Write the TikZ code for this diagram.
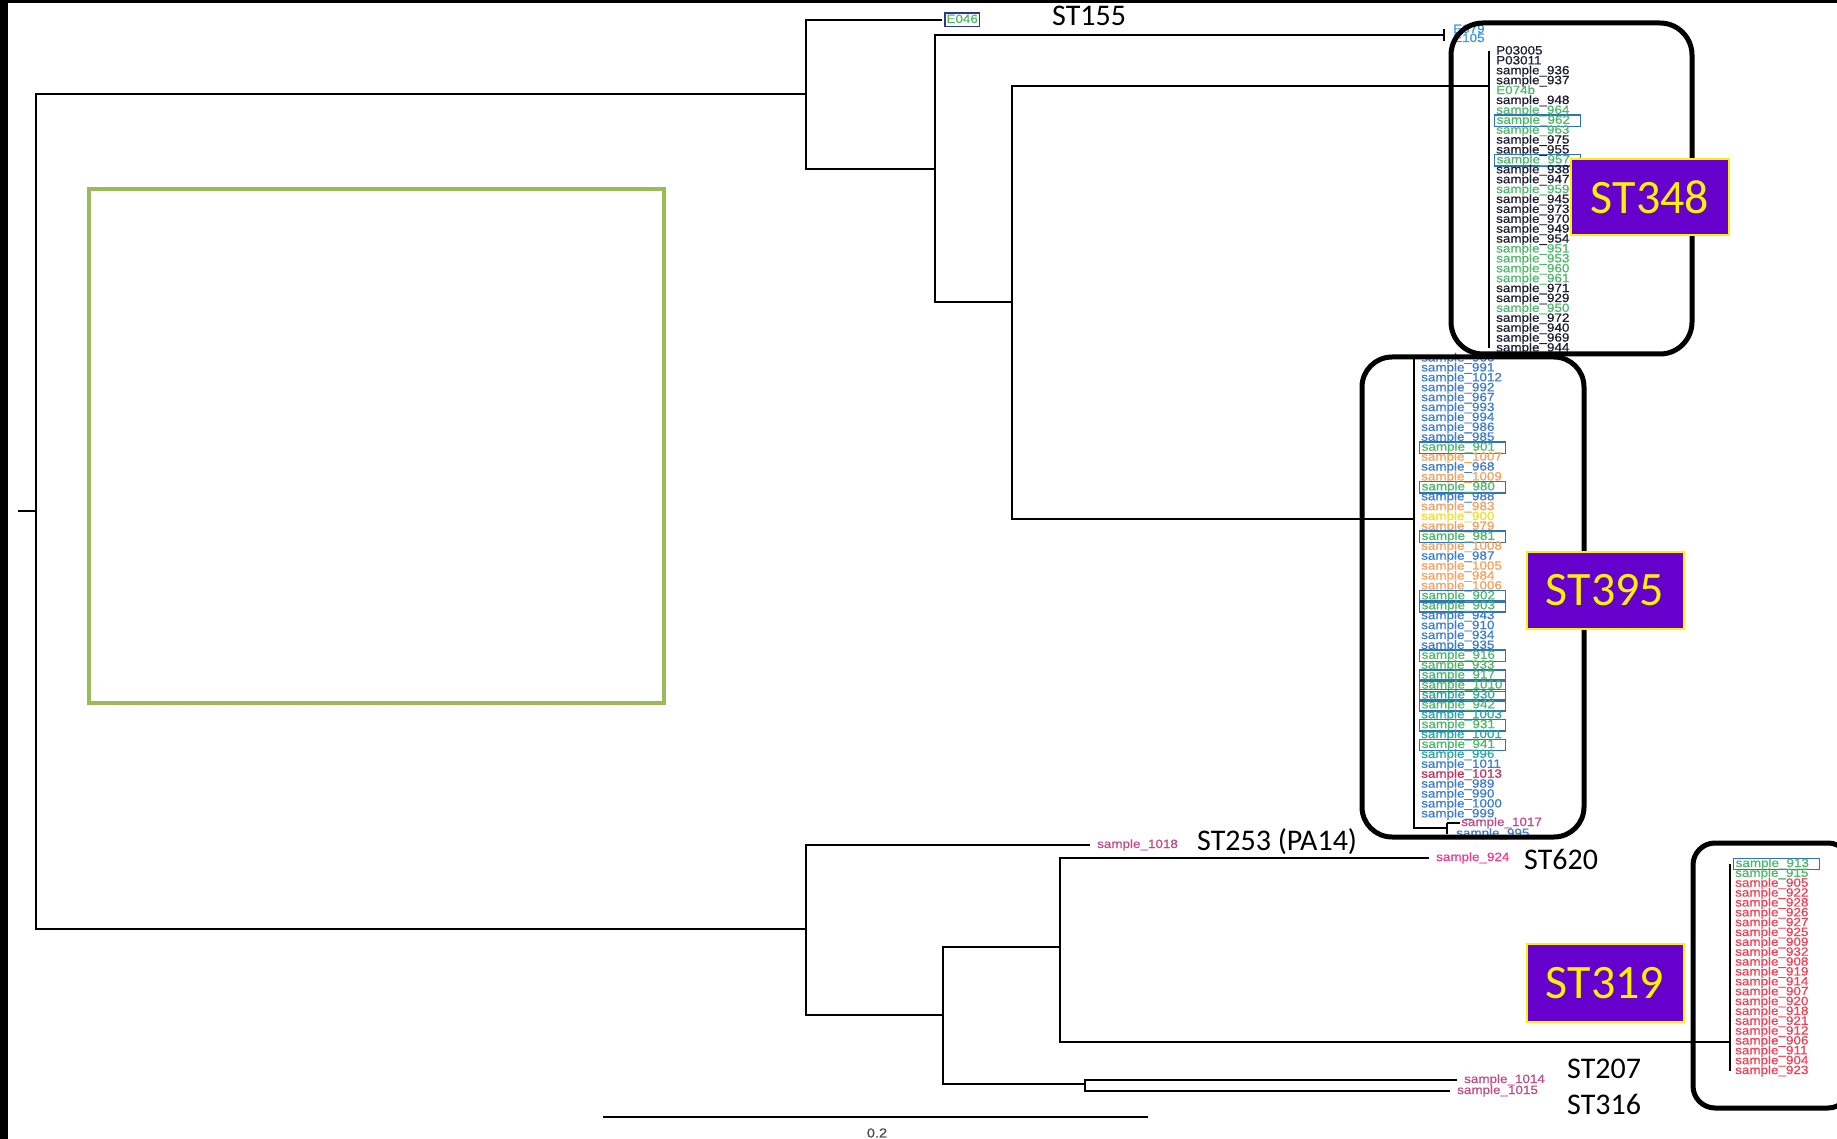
\documentclass[tikz,border=0pt]{standalone}
\usepackage{fontspec}
\setmainfont{Carlito}
\newfontfamily\tipfont[FakeStretch=1.12, FakeBold=0.6]{Liberation Sans}
\usetikzlibrary{positioning}

\definecolor{sblack}{HTML}{1C1C30}
\definecolor{sgreen}{HTML}{4DB868}
\definecolor{sblue}{HTML}{3C7CCC}
\definecolor{sorange}{HTML}{F5A05C}
\definecolor{syellow}{HTML}{F0E030}
\definecolor{steal}{HTML}{2AA89C}
\definecolor{scrimson}{HTML}{C03060}
\definecolor{smagenta}{HTML}{C04A8A}
\definecolor{spink}{HTML}{F0388C}
\definecolor{sred}{HTML}{F04055}
\definecolor{eblue}{HTML}{3A90E0}
\definecolor{boxblue}{HTML}{2E75B6}
\definecolor{ebox}{HTML}{2B3990}
\definecolor{stpurple}{HTML}{6600CC}
\definecolor{olivegreen}{HTML}{9BBB59}

\begin{document}
\begin{tikzpicture}[x=1pt,y=-1pt,
  branch/.style={line width=1.8pt, black},
  tip/.style={anchor=west, inner xsep=2pt, inner ysep=0.3pt, text height=8.4pt, text depth=2.4pt,
    font=\tipfont\fontsize{12}{12}\selectfont},
  cladetip/.style={tip, text width=82pt},
  single/.style={tip, inner xsep=7pt},
  plain/.style={},
  boxed/.style={draw=boxblue, line width=1.4pt},
  stname/.style={anchor=base west, inner sep=0pt, font=\fontsize{30}{30}\selectfont},
  stbox/.style={fill=stpurple, draw=yellow, line width=2pt, text=yellow, inner sep=0pt,
    font=\fontsize{48}{48}\selectfont},
  clade/.style={draw=black, line width=5pt}
]
\useasboundingbox (0,0) rectangle (1837,1139);
\clip (0,0) rectangle (1837,1139);
\fill[white] (0,0) rectangle (1837,1139);

% frame
\fill[black] (0,0) rectangle (8,1139);
\fill[black] (0,0) rectangle (1837,3);

% empty highlight
\draw[olivegreen, line width=4.5pt] (89,189) rectangle (664,703);

% internal nodes
\coordinate (rootstub) at (18,511);
\coordinate (root) at (36,511);
\coordinate (nA) at (806,94);
\coordinate (nB) at (935,169);
\coordinate (nC) at (1012,302);
\coordinate (c348) at (1489,86);
\coordinate (c395) at (1414,519);
\coordinate (n395s) at (1447,828);
\coordinate (eTick) at (1444,35);
\coordinate (nD) at (806,929);
\coordinate (nE) at (943,1015);
\coordinate (nF) at (1060,947);
\coordinate (nG) at (1085,1084);
\coordinate (c319) at (1730,1042);

% single tips
\node[tip, draw=ebox, line width=1.2pt, text=sgreen, inner sep=1.5pt, outer xsep=3pt] (tE046) at (942,20) {E046};
\node[single, text=eblue] (tE079) at (1446,30) {E079};
\node[single, text=eblue] (tE105) at (1446,39) {E105};
\node[single, text=smagenta] (t1018) at (1090,845) {sample\_1018};
\node[single, text=spink] (t924) at (1429,858) {sample\_924};
\node[single, text=smagenta] (t1014) at (1457,1080) {sample\_1014};
\node[single, text=smagenta] (t1015) at (1450,1091) {sample\_1015};

% ST348 clade
\foreach \lab/\col/\sty [count=\i from 0] in {P03005/sblack/plain, P03011/sblack/plain,
  sample\_936/sblack/plain, sample\_937/sblack/plain, E074b/sgreen/plain, sample\_948/sblack/plain,
  sample\_964/sgreen/plain, sample\_962/sgreen/boxed, sample\_963/sgreen/plain, sample\_975/sblack/plain,
  sample\_955/sblack/plain, sample\_957/sgreen/boxed, sample\_938/sblack/plain, sample\_947/sblack/plain,
  sample\_959/sgreen/plain, sample\_945/sblack/plain, sample\_973/sblack/plain, sample\_970/sblack/plain,
  sample\_949/sblack/plain, sample\_954/sblack/plain, sample\_951/sgreen/plain, sample\_953/sgreen/plain,
  sample\_960/sgreen/plain, sample\_961/sgreen/plain, sample\_971/sblack/plain, sample\_929/sblack/plain,
  sample\_950/sgreen/plain, sample\_972/sblack/plain, sample\_940/sblack/plain, sample\_969/sblack/plain,
  sample\_944/sblack/plain}
  \node[cladetip, text=\col, \sty] (s348-\i) at (1494,{51.5+9.9*\i}) {\lab};

% ST395 clade
\foreach \lab/\col/\sty [count=\i from 0] in {966/sblue/plain, 991/sblue/plain, 1012/sblue/plain,
  992/sblue/plain, 967/sblue/plain, 993/sblue/plain, 994/sblue/plain, 986/sblue/plain, 985/sblue/plain,
  901/sgreen/boxed, 1007/sorange/plain, 968/sblue/plain, 1009/sorange/plain, 980/sgreen/boxed,
  988/sblue/plain, 983/sorange/plain, 900/syellow/plain, 979/sorange/plain, 981/sgreen/boxed,
  1008/sorange/plain, 987/sblue/plain, 1005/sorange/plain, 984/sorange/plain, 1006/sorange/plain,
  902/sgreen/boxed, 903/sgreen/boxed, 943/sblue/plain, 910/sblue/plain, 934/sblue/plain,
  935/sblue/plain, 916/sgreen/boxed, 933/sgreen/plain, 917/sgreen/boxed, 1010/sgreen/boxed,
  930/steal/boxed, 942/sgreen/boxed, 1003/steal/plain, 931/sgreen/boxed, 1001/steal/plain,
  941/sgreen/boxed, 996/steal/plain, 1011/sblue/plain, 1013/scrimson/plain, 989/sblue/plain,
  990/sblue/plain, 1000/sblue/plain, 999/sblue/plain}
  \node[cladetip, text=\col, \sty] (s395-\i) at (1419,{358.5+9.91*\i}) {sample\_\lab};
\node[tip, inner xsep=1pt, text=smagenta] (t1017) at (1460,823) {sample\_1017};
\node[tip, inner xsep=1pt, text=sblue] (t995) at (1455,834) {sample\_995};

% ST319 clade
\foreach \lab/\col/\sty [count=\i from 0] in {913/sgreen/boxed, 915/sgreen/plain, 905/sred/plain,
  922/sred/plain, 928/sred/plain, 926/sred/plain, 927/sred/plain, 925/sred/plain, 909/sred/plain,
  932/sred/plain, 908/sred/plain, 919/sred/plain, 914/sred/plain, 907/sred/plain, 920/sred/plain,
  918/sred/plain, 921/sred/plain, 912/sred/plain, 906/sred/plain, 911/sred/plain, 904/sred/plain,
  923/sred/plain}
  \node[cladetip, text=\col, \sty] (s319-\i) at (1733,{864+9.86*\i}) {sample\_\lab};

% branches
\draw[branch] (rootstub) -- (root);
\draw[branch] (root) |- (nA);
\draw[branch] (root) |- (nD);
\draw[branch] (nA) |- (tE046.west);
\draw[branch] (nA) |- (nB);
\draw[branch] (nB) |- (eTick);
\draw[branch] (eTick) ++(0,-6) -- ++(0,12);
\draw[branch] (nB) |- (nC);
\draw[branch] (nC) |- (c348);
\draw[branch] (nC) |- (c395);
\draw[branch] (c348 |- s348-0.west) -- (c348 |- s348-30.west);
\draw[branch] (c395 |- s395-0.west) |- (n395s);
\draw[branch] (n395s |- t1017.west) -- (n395s |- t995.west);
\draw[branch] (n395s |- t1017.west) -- (t1017.west);
\draw[branch] (nD) |- (t1018.west);
\draw[branch] (nD) |- (nE);
\draw[branch] (nE) |- (nF);
\draw[branch] (nE) |- (nG);
\draw[branch] (nF) |- (t924.west);
\draw[branch] (nF) |- (c319);
\draw[branch] (c319 |- s319-0.west) -- (c319 |- s319-21.west);
\draw[branch] (nG) |- (t1014.west);
\draw[branch] (nG) |- (t1015.west);

% sequence type names
\node[stname] (lST155) at (1052,26) {ST155};
\node[stname] (lST253) at (1197,850) {ST253 (PA14)};
\node[stname] (lST620) at (1524,869) {ST620};
\node[stname] (lST207) at (1567,1078) {ST207};
\node[stname] (lST316) at (1567,1114) {ST316};

% clade frames
\draw[clade, rounded corners=32pt] (1451,23) rectangle (1692,354);
\draw[clade, rounded corners=30pt] (1362,357) rectangle (1584,837);
\draw[clade, rounded corners=22pt] (1693,843) rectangle (1850,1108);

% clade tags
\node[stbox, minimum width=158pt, minimum height=76pt] (tag348) at (1650,197) {ST348};
\node[stbox, minimum width=157pt, minimum height=77pt] (tag395) at (1605,590) {ST395};
\node[stbox, minimum width=157pt, minimum height=78pt] (tag319) at (1605,983) {ST319};

% scale bar
\coordinate (sbL) at (603,1117);
\coordinate (sbR) at (1148,1117);
\draw[line width=2pt] (sbL) -- (sbR);
\node[font=\tipfont\fontsize{13}{13}\selectfont, text=black!70, inner sep=0pt] (sbLab) at (877,1133) {0.2};
\end{tikzpicture}
\end{document}
